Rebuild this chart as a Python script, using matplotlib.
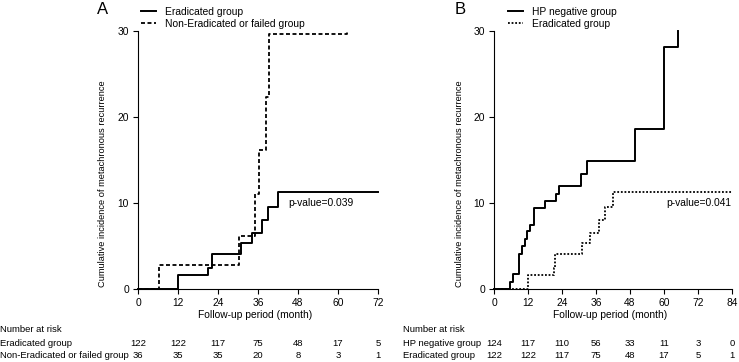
import matplotlib.pyplot as plt
import matplotlib.transforms as mtransforms
from matplotlib.lines import Line2D

plt.rcParams['font.family'] = ['Liberation Sans', 'DejaVu Sans']
plt.rcParams['font.size'] = 7.4

# panel A curves
a_erad_t = [0, 12, 21.1, 22.1, 30.9, 34.3, 37.3, 39.1, 42.1, 72]
a_erad_y = [0, 1.6, 2.4, 4.1, 5.3, 6.5, 8.0, 9.5, 11.3, 11.3]
a_non_t = [0, 6.3, 30.4, 35.2, 36.3, 38.3, 39.2, 62.6]
a_non_y = [0, 2.8, 6.2, 11.0, 16.2, 22.3, 29.65, 30.0]

# panel B curves
b_hp_t = [0, 5.8, 6.7, 8.9, 9.9, 10.8, 11.8, 12.7, 14.0, 18.0, 21.8, 22.9,
          30.8, 32.9, 49.9, 59.9, 64.9]
b_hp_y = [0, 0.8, 1.7, 4.1, 5.0, 5.8, 6.7, 7.5, 9.4, 10.2, 11.1, 12.0,
          13.4, 14.9, 18.6, 28.1, 30.0]
b_erad_t = [0, 12, 21.1, 21.5, 31.1, 34.0, 36.9, 39.1, 42.0, 84]
b_erad_y = [0, 1.6, 2.4, 4.1, 5.3, 6.5, 8.0, 9.5, 11.3, 11.3]

a_ticks = [0, 12, 24, 36, 48, 60, 72]
b_ticks = [0, 12, 24, 36, 48, 60, 72, 84]

a_risk_names = ['Eradicated group', 'Non-Eradicated or failed group']
a_risk = [[122, 122, 117, 75, 48, 17, 5],
          [36, 35, 35, 20, 8, 3, 1]]
b_risk_names = ['HP negative group', 'Eradicated group']
b_risk = [[124, 117, 110, 56, 33, 11, 3, 0],
          [122, 122, 117, 75, 48, 17, 5, 1]]

W, H = 739, 362
fig = plt.figure(figsize=(W / 100, H / 100), dpi=100)

axA = fig.add_axes([138 / W, 1 - 289 / H, 240 / W, 258 / H])
axB = fig.add_axes([494 / W, 1 - 289 / H, 238 / W, 258 / H])

dash = (0, (2.2, 1.4))
dot = (0, (1, 1))

axA.step(a_erad_t, a_erad_y, where='post', color='black', lw=1.4, clip_on=False)
axA.step(a_non_t, a_non_y, where='post', color='black', lw=1.3, ls=dash, clip_on=False)
axB.step(b_hp_t, b_hp_y, where='post', color='black', lw=1.4, clip_on=False)
axB.step(b_erad_t, b_erad_y, where='post', color='black', lw=1.3, ls=dot, clip_on=False)

axA.text(45, 10, 'p-value=0.039', va='center')
axB.text(83.6, 10, 'p-value=0.041', va='center', ha='right')


def style(ax, ticks, xmax):
    ax.set_xlim(0, xmax)
    ax.set_ylim(0, 30)
    ax.set_xticks(ticks)
    ax.set_yticks([0, 10, 20, 30])
    for s in ['top', 'right']:
        ax.spines[s].set_visible(False)
    for s in ['left', 'bottom']:
        ax.spines[s].set_linewidth(0.8)
    ax.tick_params(length=3.5, width=0.8, pad=3, labelsize=7.4)
    ax.set_xlabel('Follow-up period (month)', va='center')
    ax.xaxis.set_label_coords(0.49, -0.101)
    ax.set_ylabel('Cumulative incidence of metachronous recurrence',
                  va='center', fontsize=6.7)
    ax.yaxis.set_label_coords(-0.146, 0.407)


style(axA, a_ticks, 72)
style(axB, b_ticks, 84)

legA = [Line2D([], [], color='black', lw=1.4),
        Line2D([], [], color='black', lw=1.3, ls=dash)]
legB = [Line2D([], [], color='black', lw=1.4),
        Line2D([], [], color='black', lw=1.3, ls=dot)]
axA.legend(legA, ['Eradicated group', 'Non-Eradicated or failed group'],
           loc='upper left', bbox_to_anchor=(141 / W, 1 - 7 / H),
           bbox_transform=fig.transFigure, frameon=False, borderpad=0,
           borderaxespad=0, handlelength=1.5, handletextpad=0.8, labelspacing=0.2)
axB.legend(legB, ['HP negative group', 'Eradicated group'],
           loc='upper left', bbox_to_anchor=(508 / W, 1 - 7 / H),
           bbox_transform=fig.transFigure, frameon=False, borderpad=0,
           borderaxespad=0, handlelength=1.5, handletextpad=0.8, labelspacing=0.2)

fig.text(97 / W, 1 - 9 / H, 'A', fontsize=12, va='center')
fig.text(455 / W, 1 - 9 / H, 'B', fontsize=12, va='center')

# number at risk tables
rows_y = [330, 344, 355]
for ax, x0, names, risk, ticks in [(axA, 0, a_risk_names, a_risk, a_ticks),
                                   (axB, 403, b_risk_names, b_risk, b_ticks)]:
    fig.text(x0 / W, 1 - rows_y[0] / H, 'Number at risk', va='center', fontsize=6.8)
    tr = mtransforms.blended_transform_factory(ax.transData, fig.transFigure)
    for i, (name, vals) in enumerate(zip(names, risk)):
        y = 1 - rows_y[i + 1] / H
        fig.text(x0 / W, y, name, va='center', fontsize=6.8)
        for t, v in zip(ticks, vals):
            fig.text(t, y, str(v), va='center', ha='center', transform=tr,
                     fontsize=6.8)

fig.savefig('out.png', dpi=100)
